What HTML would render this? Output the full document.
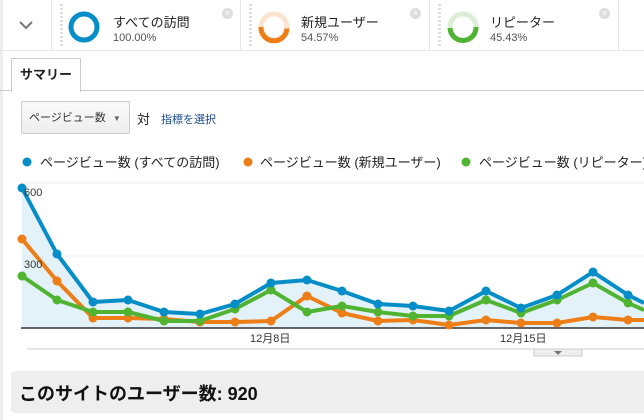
<!DOCTYPE html>
<html><head><meta charset="utf-8"><style>
body{margin:0;width:644px;height:420px;background:#fff;overflow:hidden;font-family:"Liberation Sans","Noto Sans CJK JP",sans-serif;position:relative}
.a{position:absolute}
.seg{position:absolute;top:0;height:50px;border-left:1px solid #e8e8e8}
.seg .dots{position:absolute;left:8px;top:4px;width:3px;height:42px;background:repeating-linear-gradient(#ddd 0 2px,transparent 2px 4px)}
.t{position:absolute;font-size:13px;color:#222}
.p{position:absolute;font-size:11px;color:#555}
.x{position:absolute;width:11px;height:11px;border-radius:50%;background:#ddd;color:#fff;font-size:9px;line-height:11px;text-align:center}
</style></head><body>
<div class="a" style="left:0;top:0;width:3px;height:420px;background:#eee"></div>
<div class="a" style="left:0;top:50px;width:644px;height:1px;background:#e5e5e5"></div>
<svg class="a" style="left:0;top:0" width="644" height="50">
<polyline points="20,22 26,28 32,22" fill="none" stroke="#777" stroke-width="2"/>
<circle cx="84" cy="27" r="13" fill="none" stroke="#058dc7" stroke-width="5"/>
<circle cx="274" cy="27" r="13" fill="none" stroke="#fbe3cf" stroke-width="5"/>
<path d="M261,27 A13,13 0 0 0 287,28.5" fill="none" stroke="#ed7e17" stroke-width="5"/>
<circle cx="463" cy="27" r="13" fill="none" stroke="#dcefd6" stroke-width="5"/>
<path d="M450,28 A13,13 0 0 0 476,27" fill="none" stroke="#50b432" stroke-width="5"/>
</svg>
<div class="seg" style="left:51px;width:189px"><div class="dots"></div></div>
<div class="seg" style="left:240px;width:189px"><div class="dots"></div></div>
<div class="seg" style="left:429px;width:189px"><div class="dots"></div></div>
<div class="seg" style="left:618px;width:26px"></div>
<div class="t" style="left:113px;top:12px">すべての訪問</div><div class="p" style="left:113px;top:32px">100.00%</div>
<div class="t" style="left:301px;top:12px">新規ユーザー</div><div class="p" style="left:301px;top:32px">54.57%</div>
<div class="t" style="left:490px;top:12px">リピーター</div><div class="p" style="left:490px;top:32px">45.43%</div>
<div class="x" style="left:222px;top:8px">×</div><div class="x" style="left:410px;top:8px">×</div><div class="x" style="left:599px;top:8px">×</div>
<div class="a" style="left:0;top:90px;width:644px;height:1px;background:#ccc"></div>
<div class="a" style="left:11px;top:58px;width:68px;height:33px;border:1px solid #ccc;border-bottom:none;background:#fff;font-size:13px;font-weight:bold;line-height:32px;text-align:center;color:#222">サマリー</div>
<div class="a" style="left:21px;top:101px;width:109px;height:33px;border:1px solid #ccc;border-radius:2px;background:linear-gradient(#fafafa,#eee);font-size:11px;line-height:33px;color:#333;box-sizing:border-box;padding-left:7px">ページビュー数 <span style="font-size:8px;color:#666;margin-left:4px">▼</span></div>
<div class="a" style="left:137px;top:109px;font-size:13px;color:#222">対</div>
<div class="a" style="left:161px;top:111px;font-size:11px;color:#1a4a8a">指標を選択</div>
<svg class="a" style="left:0;top:150px" width="644" height="25">
<circle cx="27" cy="12" r="4.5" fill="#058dc7"/><circle cx="248" cy="12" r="4.5" fill="#ed7e17"/><circle cx="466" cy="12" r="4.5" fill="#50b432"/>
<text x="40" y="17" font-size="13" fill="#222" font-family="Liberation Sans,Noto Sans CJK JP,sans-serif">ページビュー数 (すべての訪問)</text>
<text x="260" y="17" font-size="13" fill="#222" font-family="Liberation Sans,Noto Sans CJK JP,sans-serif">ページビュー数 (新規ユーザー)</text>
<text x="479" y="17" font-size="13" fill="#222" font-family="Liberation Sans,Noto Sans CJK JP,sans-serif">ページビュー数 (リピーター)</text>
</svg>
<svg class="a" style="left:0;top:0" width="644" height="420">
<line x1="21" y1="183" x2="644" y2="183" stroke="#eee"/>
<line x1="21" y1="256" x2="644" y2="256" stroke="#eee"/>
<polygon fill="#e3f1f8" points="22,188 57,254 93,302 128,300 164,312 200,314 235,304 271,283 307,280 342,291 378,304 413,306 449,311 486,291 521,308 557,295 593,272 628,295 644,303 644,328 22,328"/>
<line x1="21" y1="328" x2="644" y2="328" stroke="#333" stroke-width="1.5"/>
<line x1="27" y1="349" x2="644" y2="349" stroke="#ccc"/>
<g fill="none" stroke-width="4" stroke-linejoin="round">
<polyline stroke="#ed7e17" points="22,239 57,281 93,318 128,318 164,319 200,322 235,322 271,321 307,296 342,313 378,321 413,320 449,325 486,320 521,323 557,323 593,317 628,320 644,320"/>
<polyline stroke="#50b432" points="22,276 57,300 93,312 128,312 164,321 200,321 235,309 271,290 307,312 342,306 378,312 413,316 449,316 486,300 521,313 557,300 593,283 628,303 644,310"/>
<polyline stroke="#058dc7" points="22,188 57,254 93,302 128,300 164,312 200,314 235,304 271,283 307,280 342,291 378,304 413,306 449,311 486,291 521,308 557,295 593,272 628,295 644,303"/>
</g>
<g fill="#ed7e17"><circle cx="22" cy="239" r="4.5"/><circle cx="57" cy="281" r="4.5"/><circle cx="93" cy="318" r="4.5"/><circle cx="128" cy="318" r="4.5"/><circle cx="164" cy="319" r="4.5"/><circle cx="200" cy="322" r="4.5"/><circle cx="235" cy="322" r="4.5"/><circle cx="271" cy="321" r="4.5"/><circle cx="307" cy="296" r="4.5"/><circle cx="342" cy="313" r="4.5"/><circle cx="378" cy="321" r="4.5"/><circle cx="413" cy="320" r="4.5"/><circle cx="449" cy="325" r="4.5"/><circle cx="486" cy="320" r="4.5"/><circle cx="521" cy="323" r="4.5"/><circle cx="557" cy="323" r="4.5"/><circle cx="593" cy="317" r="4.5"/><circle cx="628" cy="320" r="4.5"/></g>
<g fill="#50b432"><circle cx="22" cy="276" r="4.5"/><circle cx="57" cy="300" r="4.5"/><circle cx="93" cy="312" r="4.5"/><circle cx="128" cy="312" r="4.5"/><circle cx="164" cy="321" r="4.5"/><circle cx="200" cy="321" r="4.5"/><circle cx="235" cy="309" r="4.5"/><circle cx="271" cy="290" r="4.5"/><circle cx="307" cy="312" r="4.5"/><circle cx="342" cy="306" r="4.5"/><circle cx="378" cy="312" r="4.5"/><circle cx="413" cy="316" r="4.5"/><circle cx="449" cy="316" r="4.5"/><circle cx="486" cy="300" r="4.5"/><circle cx="521" cy="313" r="4.5"/><circle cx="557" cy="300" r="4.5"/><circle cx="593" cy="283" r="4.5"/><circle cx="628" cy="303" r="4.5"/></g>
<g fill="#058dc7"><circle cx="22" cy="188" r="4.5"/><circle cx="57" cy="254" r="4.5"/><circle cx="93" cy="302" r="4.5"/><circle cx="128" cy="300" r="4.5"/><circle cx="164" cy="312" r="4.5"/><circle cx="200" cy="314" r="4.5"/><circle cx="235" cy="304" r="4.5"/><circle cx="271" cy="283" r="4.5"/><circle cx="307" cy="280" r="4.5"/><circle cx="342" cy="291" r="4.5"/><circle cx="378" cy="304" r="4.5"/><circle cx="413" cy="306" r="4.5"/><circle cx="449" cy="311" r="4.5"/><circle cx="486" cy="291" r="4.5"/><circle cx="521" cy="308" r="4.5"/><circle cx="557" cy="295" r="4.5"/><circle cx="593" cy="272" r="4.5"/><circle cx="628" cy="295" r="4.5"/></g>
<g font-size="11" fill="#333" font-family="Liberation Sans,Noto Sans CJK JP,sans-serif">
<text x="24" y="196">600</text><text x="24" y="268">300</text>
<text x="250" y="342">12月8日</text><text x="500" y="342">12月15日</text>
</g>
<rect x="534" y="349" width="48" height="7" fill="#eee" stroke="#ccc"/>
<polygon points="554,351 562,351 558,355" fill="#777"/>
</svg>
<div class="a" style="left:11px;top:371px;width:640px;height:42px;background:#eee;border-radius:4px"></div>
<div class="a" style="left:19px;top:380px;font-size:18px;font-weight:bold;color:#111">このサイトのユーザー数: 920</div>
</body></html>
